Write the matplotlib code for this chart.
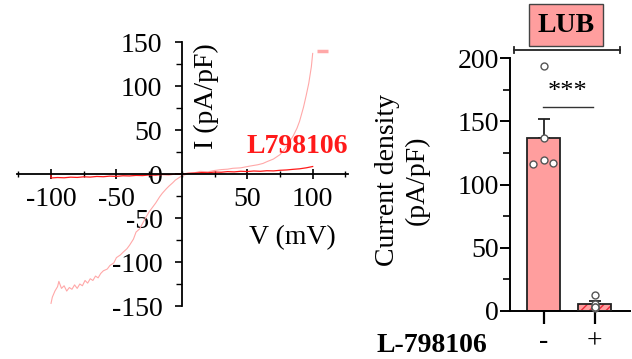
import matplotlib
matplotlib.use("Agg")
import matplotlib.pyplot as plt
from matplotlib.lines import Line2D
from matplotlib.ticker import MultipleLocator
import numpy as np

plt.rcParams['font.family'] = ['Liberation Serif', 'DejaVu Serif']
plt.rcParams['axes.unicode_minus'] = False

# I-V trace, control (pink)
ctrl_v = [-100, -99, -97, -95, -94, -92, -90, -88, -86, -84, -82, -80, -78, -76,
          -74, -72, -70, -68, -66, -64, -62, -60, -57, -55, -52, -50, -47, -45,
          -42, -40, -37, -35, -32, -30, -27, -25, -22, -20, -17, -15, -12, -10,
          -7, -5, -2, 0, 5, 10, 14, 20, 25, 30, 35, 39, 45, 52, 58, 62, 65, 70,
          75, 78, 82, 85, 88, 90, 93, 95, 97, 99, 100]
ctrl_i = [-147, -140, -133, -128, -122, -130, -127, -133, -129, -131, -126, -130,
          -125, -127, -121, -124, -119, -121, -116, -118, -113, -110, -108, -104,
          -101, -95, -92, -89, -85, -81, -74, -66, -62, -56, -48, -43, -37, -33,
          -26, -22, -17, -14, -10, -7, -4, -2, 0.5, 1.5, 3, 2.5, 4, 5, 5.5, 6.5,
          7, 9, 10.5, 12, 14, 17, 22, 27, 36, 43, 52, 60, 76, 89, 103, 122, 137]

# I-V trace, with L798106 (red)
drug_v = [-100, -100, -95, -90, -85, -80, -75, -70, -65, -60, -55, -50, -45, -40,
          -35, -30, -25, -20, -15, -10, -5, 0, 5, 10, 15, 20, 25, 30, 35, 40, 45,
          50, 55, 60, 65, 70, 75, 80, 85, 90, 95, 100]
drug_i = [0, -4.5, -4, -4.3, -3.6, -3.9, -3.2, -3.5, -2.8, -3.1, -2.4, -2.7, -2,
          -2.2, -1.6, -1.8, -1.1, -1.3, -0.6, -0.8, -0.2, 0, 0.8, 1, 1.6, 1.4,
          2.2, 2, 2.7, 2.4, 3.1, 2.8, 3.4, 3.1, 3.7, 3.5, 4.2, 4.6, 5.3, 5.9, 7,
          8.5]

# bar chart: current density at +100 mV
groups = ["-", "+"]
pts_ctrl = [194, 137, 116, 119.5, 117]
pts_drug = [13, 5.5, 3.5, 2.5, 3.5]
jitter = [0, 0, -0.21, 0, 0.19]

pink = "#ff9e9e"
trace_pink = "#ffa8a8"
red = "#ff1a1a"

fig = plt.figure(figsize=(6.32, 3.59), dpi=100)

# ---- left panel: I-V curve
ax = fig.add_axes([17 / 632, 53 / 359, 331 / 632, 264 / 359])
ax.plot(ctrl_v, ctrl_i, color=trace_pink, lw=0.8)
ax.plot(drug_v, drug_i, color=red, lw=0.9)
ax.plot([103, 112], [140, 140], color=trace_pink, lw=2.5, solid_capstyle='butt')
ax.set_xlim(-126, 127)
ax.set_ylim(-150, 150)
for s in ['top', 'right']:
    ax.spines[s].set_visible(False)
ax.spines['left'].set_position(('data', 0))
ax.spines['bottom'].set_position(('data', 0))
ax.spines['left'].set_linewidth(1.3)
ax.spines['bottom'].set_linewidth(1.3)
ax.set_xticks([-100, -50, 50, 100])
ax.set_yticks([-150, -100, -50, 0, 50, 100, 150])
ax.xaxis.set_minor_locator(MultipleLocator(25))
ax.yaxis.set_minor_locator(MultipleLocator(25))
ax.tick_params(axis='x', which='major', direction='inout', length=7, width=1.2,
               labelsize=20, pad=6)
ax.tick_params(axis='x', which='minor', direction='inout', length=5, width=1)
ax.tick_params(axis='y', which='major', direction='out', length=5, width=1.2,
               labelsize=20, pad=9)
ax.tick_params(axis='y', which='minor', direction='out', length=4, width=1)
ax.patch.set_alpha(0)

fig.text(206 / 632, 1 - 96 / 359, "I (pA/pF)", rotation=90, ha='center',
         va='center', fontsize=20)
fig.text(292 / 632, 1 - 238 / 359, "V (mV)", ha='center', va='center',
         fontsize=20)
fig.text(297 / 632, 1 - 146 / 359, "L798106", ha='center', va='center',
         fontsize=20, fontweight='bold', color=red)

# ---- right panel: bars
ax2 = fig.add_axes([510 / 632, 48 / 359, 120 / 632, 253 / 359])
x = np.arange(len(groups))
means = [np.mean(pts_ctrl), np.mean(pts_drug)]
sems = [np.std(pts_ctrl, ddof=1) / np.sqrt(len(pts_ctrl)),
        np.std(pts_drug, ddof=1) / np.sqrt(len(pts_drug))]
ax2.errorbar(x, means, yerr=[[0, 0], sems], fmt='none', ecolor='#222222',
             elinewidth=1.3, capsize=4, capthick=1.3, zorder=1)
ax2.bar(x[0], means[0], width=0.65, color=pink, edgecolor='#222222', lw=1.3,
        zorder=2)
ax2.bar(x[1], means[1], width=0.65, color=pink, edgecolor='#e8283a', lw=0,
        hatch='////', zorder=2)
ax2.bar(x[1], means[1], width=0.65, fill=False, edgecolor='#222222', lw=1.3,
        zorder=3)
ax2.plot(x[0] + np.array(jitter), pts_ctrl, 'o', ms=5, mfc='white',
         mec='#555555', mew=1, zorder=4, clip_on=False)
ax2.plot(np.full(len(pts_drug), x[1]), pts_drug, 'o', ms=5, mfc='white',
         mec='#555555', mew=1, zorder=4, clip_on=False)
ax2.set_xlim(-0.657, 1.696)
ax2.set_ylim(0, 200)
for s in ['top', 'right']:
    ax2.spines[s].set_visible(False)
ax2.spines['left'].set_linewidth(1.4)
ax2.spines['bottom'].set_linewidth(1.4)
ax2.set_xticks(x)
ax2.set_xticklabels(groups)
ax2.set_yticks([0, 50, 100, 150, 200])
ax2.yaxis.set_minor_locator(MultipleLocator(25))
ax2.tick_params(axis='x', direction='out', length=9, width=1.6, labelsize=20,
                pad=4)
ax2.tick_params(axis='y', which='major', direction='out', length=7, width=1.4,
                labelsize=20, pad=1)
ax2.tick_params(axis='y', which='minor', direction='out', length=5, width=1.2)

fig.text(402 / 632, 1 - 180 / 359, "Current density\n(pA/pF)", rotation=90,
         ha='center', va='center', fontsize=20, linespacing=1.25,
         multialignment='center')
fig.text(432 / 632, 1 - 346 / 359, "L-798106", ha='center', va='center',
         fontsize=20, fontweight='bold')

# LUB label + bracket
fig.text(566 / 632, 1 - 25 / 359, "LUB", ha='center', va='center', fontsize=20,
         fontweight='bold',
         bbox=dict(boxstyle='square,pad=0.32', fc=pink, ec='#444444', lw=1))
by = 1 - 50 / 359
fig.add_artist(Line2D([514 / 632, 620 / 632], [by, by], color='#222222', lw=1.3))
for bx in [514 / 632, 620 / 632]:
    fig.add_artist(Line2D([bx, bx], [by - 3 / 359, by + 3 / 359],
                          color='#222222', lw=1.3))

# significance
fig.text(568 / 632, 1 - 92 / 359, "***", ha='center', va='center', fontsize=19)
sy = 1 - 107 / 359
fig.add_artist(Line2D([543 / 632, 593 / 632], [sy, sy], color='#333333', lw=1))

fig.savefig("out.png", dpi=100)
